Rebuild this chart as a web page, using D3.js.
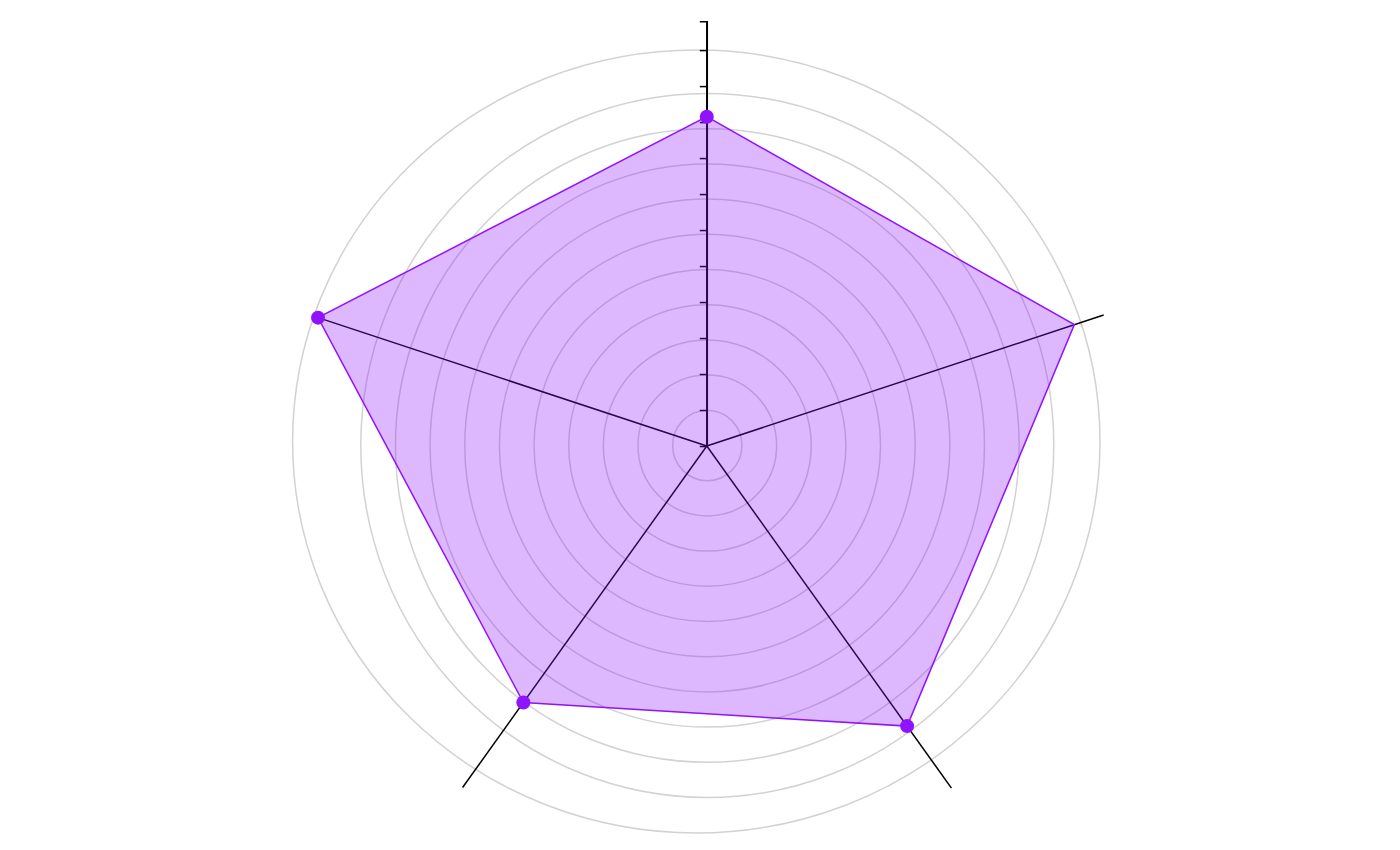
<!DOCTYPE html>
<html>
<head>
<meta charset="utf-8">
<script src="https://cdn.jsdelivr.net/npm/d3@7"></script>
<style>
  html, body { margin: 0; padding: 0; background: #ffffff; }
  svg { display: block; }
</style>
</head>
<body>
<script>
// ---- data ----
const categories = ["A", "B", "C", "D", "E"];
const seriesValues = [91.5, 109.1, 96.2, 88.1, 115.4];
const showMarker = [true, false, true, true, true];
const axisExtent = [118, 117.8, 117.5, 117.3, 115.4];
const tickValues = [10, 20, 30, 40, 50, 60, 70, 80, 90, 100, 110];
const gridLevels = [10, 20, 30, 40, 50, 60, 70, 80, 90, 100];
const domainMax = 118;

// ---- layout ----
const W = 1400, H = 850;
const cx = 706.8, cy = 446;
const R = 418;
const sy = 1.016;
const color = "#9013FE";

const svg = d3.select("body").append("svg").attr("width", W).attr("height", H);

const r = d3.scaleLinear().domain([0, domainMax]).range([0, R]);
const gridX = d3.scaleLinear().domain([0, 100]).range([0, 346.5]);
const gridY = d3.scaleLinear().domain([0, 100]).range([0, 352]);
const angle = d3.scaleLinear().domain([0, categories.length]).range([0, 2 * Math.PI]);

const g = svg.append("g").attr("transform", `translate(${cx},${cy})`);

// grid rings
g.selectAll("ellipse.grid").data(gridLevels).join("ellipse")
  .attr("class", "grid")
  .attr("cx", 0.5).attr("cy", -0.5)
  .attr("rx", d => gridX(d)).attr("ry", d => gridY(d))
  .attr("fill", "none").attr("stroke", "#d2d2d2").attr("stroke-width", 1.5);

// outer ring
g.append("ellipse")
  .attr("cx", -10.5).attr("cy", -4.5)
  .attr("rx", 403.7).attr("ry", 391.5)
  .attr("fill", "none").attr("stroke", "#d2d2d2").attr("stroke-width", 1.5);

const px = (v, i) => r(v) * Math.sin(angle(i));
const py = (v, i) => -r(v) * Math.cos(angle(i)) * sy;

// spokes
g.selectAll("line.spoke").data(categories).join("line")
  .attr("class", "spoke")
  .attr("x1", 0).attr("y1", 0)
  .attr("x2", (d, i) => px(axisExtent[i], i))
  .attr("y2", (d, i) => py(axisExtent[i], i))
  .attr("stroke", "#000").attr("stroke-width", 1.5);

// top axis with ticks
const yAxisScale = d3.scaleLinear().domain([0, domainMax]).range([0, -R * sy]);
const ax = g.append("g")
  .call(d3.axisLeft(yAxisScale).tickValues(tickValues).tickFormat("").tickSize(7).tickSizeOuter(7));
ax.selectAll("path, line").attr("stroke", "#000").attr("stroke-width", 1.5);

// polygon
const pts = seriesValues.map((v, i) => [px(v, i), py(v, i)]);
g.append("path")
  .datum(pts)
  .attr("d", d3.line().curve(d3.curveLinearClosed))
  .attr("fill", color).attr("fill-opacity", 0.3)
  .attr("stroke", color).attr("stroke-width", 1.5);

// markers
g.selectAll("circle.pt").data(seriesValues.map((v, i) => ({ v, i })).filter(d => showMarker[d.i]))
  .join("circle")
  .attr("class", "pt")
  .attr("cx", d => px(d.v, d.i)).attr("cy", d => py(d.v, d.i))
  .attr("r", 7)
  .attr("fill", color);

// faint marker
g.append("circle")
  .attr("cx", px(110.6, 1) + 1.5).attr("cy", py(110.6, 1) + 2)
  .attr("r", 2)
  .attr("fill", "#ff6060").attr("fill-opacity", 0.15);
</script>
</body>
</html>
